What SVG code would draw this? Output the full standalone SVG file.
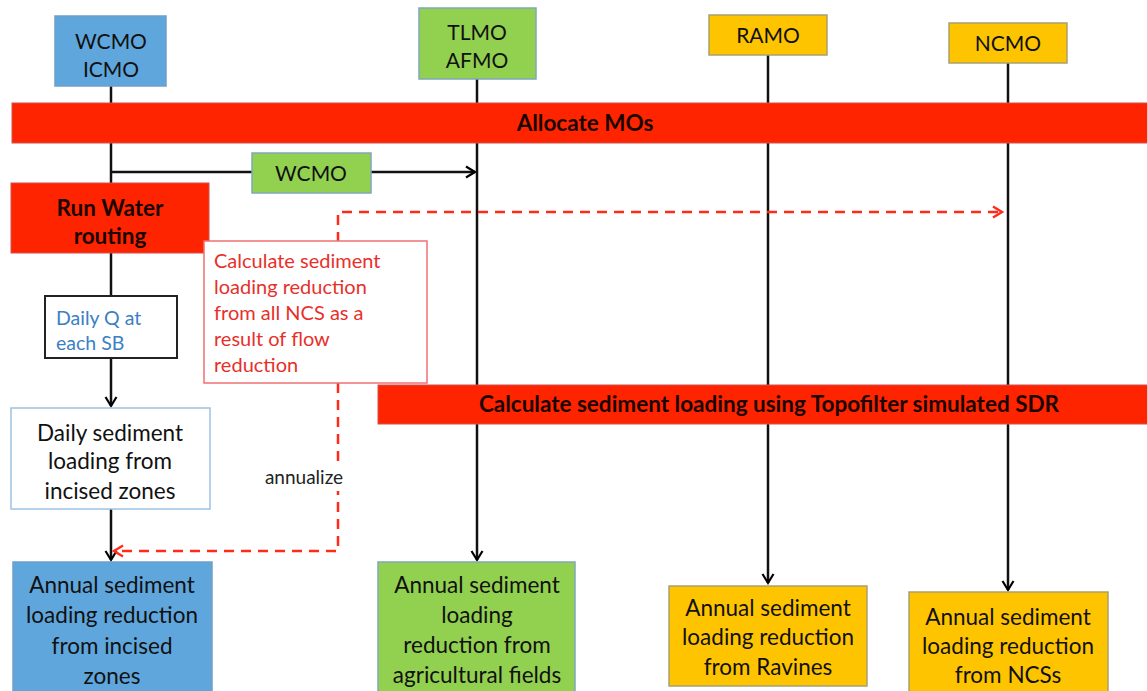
<svg xmlns="http://www.w3.org/2000/svg" width="1147" height="691" viewBox="0 0 1147 691">
<defs>
<marker id="ah" markerWidth="14" markerHeight="14" refX="11" refY="7" orient="auto" markerUnits="userSpaceOnUse">
<path d="M2,1.5 L11,7 L2,12.5" fill="none" stroke="#000" stroke-width="2.2"/>
</marker>
<marker id="ahr" markerWidth="14" markerHeight="14" refX="11" refY="7" orient="auto" markerUnits="userSpaceOnUse">
<path d="M2,1.5 L11,7 L2,12.5" fill="none" stroke="#ff2a1a" stroke-width="2.4"/>
</marker>
</defs>
<style>
text{font-family:Lato,"Liberation Sans",sans-serif;}
.l{font-size:21px;fill:#111;text-anchor:middle;}
.t{font-size:22.5px;fill:#111;text-anchor:middle;}
.b{font-size:22.5px;font-weight:bold;fill:#1a0500;text-anchor:middle;}
.r{font-size:20px;fill:#e8302a;}
.q{font-size:19.5px;fill:#3a80c4;}
.ln{stroke:#111;stroke-width:2.5;fill:none;}
.dash{stroke:#ff2a1a;stroke-width:2.5;fill:none;stroke-dasharray:10 7;}
.blue{fill:#5fa6dd;stroke:#6f9fc6;stroke-width:1.5;}
.green{fill:#92d050;stroke:#7fa8b8;stroke-width:1.5;}
.yellow{fill:#ffc400;stroke:#a8a070;stroke-width:1.5;}
.red{fill:#ff2400;stroke:#d05050;stroke-width:1;}
</style>
<g id="connectors">
<path class="ln" d="M111,86 V296"/>
<path class="ln" d="M111,358 V406" marker-end="url(#ah)"/>
<path class="ln" d="M111,509 V560" marker-end="url(#ah)"/>
<path class="ln" d="M111,172 H475" marker-end="url(#ah)"/>
<path class="ln" d="M477,79 V560" marker-end="url(#ah)"/>
<path class="ln" d="M768,55 V583" marker-end="url(#ah)"/>
<path class="ln" d="M1008,63 V590" marker-end="url(#ah)"/>
<path class="dash" d="M338,242 V212 H1002" marker-end="url(#ahr)"/>
<path class="dash" d="M338,383 V551 H114" marker-end="url(#ahr)"/>
<rect x="258" y="463" width="92" height="28" fill="#fff"/>
<text x="304" y="484" style="font-size:19px;fill:#222;text-anchor:middle;">annualize</text>
</g>
<g id="wcmo-icmo"><rect class="blue" x="55" y="16" width="111" height="70"/><text class="l" x="111" y="49">WCMO</text><text class="l" x="111" y="77">ICMO</text></g>
<g id="tlmo-afmo"><rect class="green" x="419" y="8" width="117" height="71"/><text class="l" x="477" y="40">TLMO</text><text class="l" x="477" y="68">AFMO</text></g>
<g id="ramo"><rect class="yellow" x="709" y="15" width="118" height="40"/><text class="l" x="768" y="43">RAMO</text></g>
<g id="ncmo"><rect class="yellow" x="949" y="23" width="118" height="40"/><text class="l" x="1008" y="51">NCMO</text></g>
<g id="allocate"><rect class="red" x="12" y="103" width="1140" height="40"/><text class="b" x="585" y="131">Allocate MOs</text></g>
<g id="wcmo-transfer"><rect class="green" x="252" y="153" width="119" height="40"/><text class="l" x="311" y="181">WCMO</text></g>
<g id="run-water"><rect class="red" x="11" y="183" width="198" height="70"/><text class="b" x="110" y="216">Run Water</text><text class="b" x="110" y="244">routing</text></g>
<g id="calc-ncs"><rect x="204" y="241" width="223" height="142" fill="#fff" stroke="#f07070" stroke-width="1.5"/>
<text class="r" x="214" y="268">Calculate sediment</text>
<text class="r" x="214" y="294">loading reduction</text>
<text class="r" x="214" y="320">from all NCS as a</text>
<text class="r" x="214" y="346">result of flow</text>
<text class="r" x="214" y="372">reduction</text></g>
<g id="daily-q"><rect x="45" y="296" width="132" height="62" fill="#fff" stroke="#222" stroke-width="2"/>
<text class="q" x="56" y="325">Daily Q at</text>
<text class="q" x="56" y="350">each SB</text></g>
<g id="topofilter"><rect class="red" x="378" y="385" width="774" height="39"/><text class="b" x="769" y="412">Calculate sediment loading using Topofilter simulated SDR</text></g>
<g id="daily-sed"><rect x="11" y="408" width="199" height="101" fill="#fff" stroke="#9cc2e4" stroke-width="1.5"/>
<text class="t" x="110" y="441">Daily sediment</text><text class="t" x="110" y="469">loading from</text><text class="t" x="110" y="499">incised zones</text></g>
<g id="annual-incised"><rect class="blue" x="13" y="562" width="199" height="135"/>
<text class="t" x="112" y="593">Annual sediment</text><text class="t" x="112" y="623">loading reduction</text><text class="t" x="112" y="654">from incised</text><text class="t" x="112" y="684">zones</text></g>
<g id="annual-ag"><rect class="green" x="378" y="562" width="197" height="135"/>
<text class="t" x="477" y="593">Annual sediment</text><text class="t" x="477" y="623">loading</text><text class="t" x="477" y="653">reduction from</text><text class="t" x="477" y="683">agricultural fields</text></g>
<g id="annual-ravines"><rect class="yellow" x="669" y="586" width="198" height="100"/>
<text class="t" x="768" y="616">Annual sediment</text><text class="t" x="768" y="645">loading reduction</text><text class="t" x="768" y="675">from Ravines</text></g>
<g id="annual-ncs"><rect class="yellow" x="909" y="592" width="199" height="105"/>
<text class="t" x="1008" y="625">Annual sediment</text><text class="t" x="1008" y="654">loading reduction</text><text class="t" x="1008" y="683">from NCSs</text></g>
</svg>
